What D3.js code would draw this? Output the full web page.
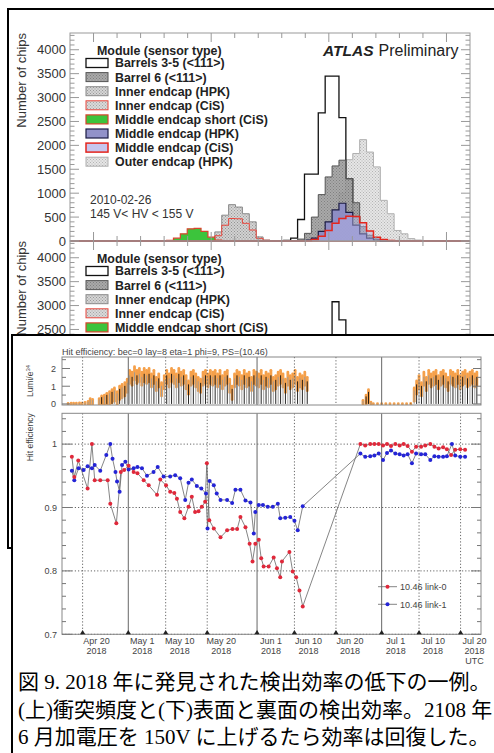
<!DOCTYPE html>
<html>
<head>
<meta charset="utf-8">
<script src="https://cdn.jsdelivr.net/npm/d3@7"></script>
<style>
body { margin: 0; background: #fff; }
svg { display: block; font-family: "Liberation Sans", Arial, sans-serif; }
</style>
</head>
<body>
<svg id="fig" width="494" height="753"></svg>
<script>
// ---------------- data: chip histograms (bin index, number of chips) ----------------
var nBins = 58;
var countTicks = [0, 500, 1000, 1500, 2000, 2500, 3000, 3500, 4000];
var legendNames = ["Barrels 3-5 (<111>)", "Barrel 6 (<111>)", "Inner endcap (HPK)", "Inner endcap (CiS)",
  "Middle endcap short (CiS)", "Middle endcap (HPK)", "Middle endcap (CiS)", "Outer endcap (HPK)"];

var barrels35 = [[31,10],[32,60],[33,450],[34,1400],[35,1400],[36,2680],[37,3450],[38,3450],[39,2580],[40,1300],[41,500],[42,150],[43,40],[44,10]];
var barrel6 = [[33,40],[34,160],[35,500],[36,970],[37,1340],[38,1570],[39,1690],[40,1300],[41,800],[42,300],[43,120],[44,40]];
var innerHPK = [[20,30],[21,190],[22,540],[23,760],[24,710],[25,570],[26,400],[27,85],[28,20]];
var innerCiS = [[20,20],[21,110],[22,330],[23,470],[24,465],[25,370],[26,230],[27,55],[28,15]];
var middleShort = [[14,15],[15,60],[16,150],[17,255],[18,265],[19,200],[20,80],[21,20]];
var middleHPK = [[34,20],[35,60],[36,200],[37,400],[38,650],[39,790],[40,600],[41,330],[42,150],[43,60],[44,20]];
var middleCiS = [[35,30],[36,100],[37,220],[38,370],[39,470],[40,520],[41,515],[42,380],[43,210],[44,80],[45,30],[46,10]];
var outerHPK = [[36,30],[37,150],[38,450],[39,1000],[40,1700],[41,1830],[42,2120],[43,1860],[44,1550],[45,850],[46,570],[47,220],[48,150],[49,50],[50,20]];

// lower (mostly hidden) histogram panel
var barrels35B = [[32,50],[33,300],[34,900],[35,1700],[36,2300],[37,2350],[38,3080],[39,2700],[40,1500],[41,600],[42,150],[43,30]];

// ---------------- data: hit efficiency vs time ----------------
var dateTicks = ["2018-04-20 00","2018-05-01 00","2018-05-10 00","2018-05-20 00","2018-06-01 00","2018-06-10 00","2018-06-20 00","2018-07-01 00","2018-07-10 00","2018-07-20 00"];
var dateLabels = ["Apr 20","May 1","May 10","May 20","Jun 1","Jun 10","Jun 20","Jul 1","Jul 10","Jul 20"];
var monthStarts = ["May 1","Jun 1","Jul 1"];
var effTicks = [0.7, 0.8, 0.9, 1.0];
var lumiTicks = [0, 1, 2];

var link0Dates = ["04-17 10","04-18 00","04-18 23","04-21 05","04-22 06","04-22 22","04-24 06","04-26 01","04-26 16","04-28 03",
  "04-29 05","04-30 00","05-01 02","05-02 07","05-03 05","05-04 17","05-05 22","05-07 22","05-08 17","05-10 02",
  "05-11 02","05-12 02","05-12 17","05-13 12","05-14 12","05-15 12","05-16 07","05-17 02","05-17 22","05-18 17",
  "05-19 12","05-19 22","05-20 12","05-21 14","05-23 05","05-24 19","05-26 02","05-27 05","05-28 00","05-29 05",
  "05-30 05","05-30 22","05-31 14","06-01 10","06-02 00","06-02 14","06-03 19","06-05 00","06-05 19","06-06 14",
  "06-07 00","06-08 19","06-09 14","06-10 10","06-11 05","06-12 00",
  "06-25 21","06-27 01","06-28 06","06-29 06","06-30 07","07-01 08","07-02 07","07-03 06","07-04 07","07-05 08",
  "07-06 07","07-07 06","07-08 07","07-09 07","07-10 12","07-11 12","07-12 17","07-13 17","07-14 17","07-15 19",
  "07-16 17","07-17 17","07-18 17","07-19 22","07-21 02"];
var link0Eff = [0.980,0.948,0.974,0.930,1.000,0.943,0.943,0.943,0.906,0.875,
  0.956,0.959,0.966,0.956,0.954,0.943,0.935,0.920,0.944,0.935,
  0.925,0.923,0.914,0.893,0.883,0.901,0.917,0.893,0.894,0.901,
  0.909,0.970,0.880,0.867,0.853,0.864,0.866,0.866,0.885,0.869,
  0.843,0.815,0.843,0.849,0.820,0.807,0.807,0.821,0.804,0.790,
  0.815,0.830,0.799,0.790,0.769,0.744,
  1.000,0.998,1.000,1.000,1.000,0.998,1.000,0.997,1.000,0.998,
  1.000,0.997,0.988,0.996,0.996,0.998,1.000,0.996,0.993,0.995,
  0.992,0.983,0.991,0.992,0.991];

var link1Dates = ["04-17 10","04-18 00","04-19 01","04-20 06","04-21 05","04-22 06","04-22 22","04-24 06","04-25 17","04-26 16",
  "04-27 05","04-27 22","04-28 07","04-28 22","04-29 12","04-30 07","05-01 02","05-02 07","05-03 05","05-04 07",
  "05-05 12","05-07 02","05-08 02","05-09 12","05-11 02","05-12 07","05-13 12","05-14 17","05-15 12","05-16 07",
  "05-17 12","05-18 14","05-19 17","05-20 02","05-20 14","05-21 14","05-22 07","05-23 05","05-24 19","05-26 00",
  "05-26 19","05-28 00","05-29 05","05-30 10","05-31 05","05-31 14","06-01 10","06-02 10","06-03 14","06-04 19",
  "06-06 00","06-06 14","06-07 19","06-09 00","06-10 00","06-10 19","06-12 00",
  "06-25 21","06-27 01","06-28 06","06-29 06","06-30 07","07-01 08","07-02 07","07-03 06","07-04 07","07-05 08",
  "07-06 07","07-07 06","07-08 07","07-09 07","07-10 12","07-11 12","07-12 17","07-13 17","07-14 17","07-15 19",
  "07-16 17","07-17 22","07-18 17","07-19 22","07-21 02"];
var link1Eff = [0.958,0.943,0.962,0.959,0.965,0.962,0.967,0.958,0.983,1.000,
  0.977,0.956,0.941,0.925,0.967,0.972,0.960,0.962,0.964,0.962,
  0.950,0.956,0.964,0.949,0.949,0.951,0.946,0.912,0.939,0.944,
  0.934,0.930,0.922,0.867,0.942,0.935,0.922,0.912,0.912,0.907,
  0.928,0.928,0.911,0.908,0.859,0.893,0.904,0.904,0.901,0.901,
  0.906,0.883,0.884,0.885,0.879,0.864,0.902,
  0.985,0.980,0.981,0.982,0.985,0.975,0.986,0.990,0.985,0.984,
  0.982,0.984,0.970,0.985,0.984,0.984,0.975,0.981,0.980,0.980,
  0.981,1.000,0.982,0.980,0.980];

// instantaneous luminosity per fill (1e34), k = dark bar, g = grey bar
var lumiDates = ["04-16 12","04-17 06","04-17 20","04-18 12","04-19 06","04-19 20","04-20 14","04-21 08","04-21 20","04-22 10",
  "04-24 00","04-24 14","04-25 06","04-25 20","04-26 12","04-27 02","04-27 16","04-28 08","04-28 22","04-29 12","04-30 04","04-30 18",
  "05-01 08","05-01 22","05-02 12","05-03 02","05-03 16","05-04 06","05-04 20","05-05 10","05-06 00","05-06 14",
  "05-07 04","05-07 18","05-08 08","05-09 00","05-09 16","05-10 06","05-10 20","05-11 10","05-12 00","05-12 14",
  "05-13 04","05-13 18","05-14 08","05-14 22","05-15 12","05-16 02","05-16 16","05-17 06","05-17 20","05-18 10",
  "05-19 00","05-19 14","05-20 04","05-20 18","05-21 08","05-21 22","05-22 12","05-23 02","05-23 16","05-24 06",
  "05-24 20","05-25 10","05-26 00","05-26 14","05-27 04","05-27 18","05-28 08","05-28 22","05-29 12","05-30 02",
  "05-30 16","05-31 06","05-31 20","06-01 10","06-02 00","06-02 14","06-03 04","06-03 18","06-04 08","06-04 22",
  "06-05 12","06-06 02","06-06 16","06-07 06","06-07 20","06-08 10","06-09 00","06-09 14","06-10 04","06-10 18",
  "06-11 08","06-11 22","06-12 12","06-13 02",
  "06-26 12","06-27 06","06-27 20","06-28 10","06-29 00","06-30 00","07-01 00","07-02 00","07-03 00","07-04 00",
  "07-05 00","07-06 00","07-07 00","07-08 00","07-08 20","07-09 10","07-10 00","07-10 14","07-11 04","07-11 18",
  "07-12 08","07-12 22","07-13 12","07-14 02","07-14 16","07-15 06","07-15 20","07-16 10","07-17 00","07-17 14",
  "07-18 04","07-18 18","07-19 08","07-19 22","07-20 12","07-21 02","07-21 16","07-22 06","07-22 20","07-23 10","07-23 22"];
var lumiPeaks = [0.03,0.04,0.05,0.05,0.06,0.05,0.08,0.15,0.3,0.25,
  0.3,0.45,0.5,0.6,0.7,0.8,0.9,0.7,1.0,1.1,1.2,1.4,
  1.9,1.8,2.1,1.9,2.0,1.8,2.0,1.9,2.0,1.7,
  1.9,1.5,1.7,1.2,1.6,1.9,1.7,2.0,1.9,1.7,
  2.0,1.8,1.9,1.6,1.3,1.8,1.9,1.7,1.5,1.4,
  1.8,1.9,1.7,1.9,1.8,1.9,1.7,1.9,1.6,1.8,
  1.9,1.4,1.0,1.7,1.9,1.8,1.6,1.9,1.7,1.8,
  1.5,1.9,1.8,1.7,1.9,1.6,1.8,1.7,1.9,1.5,
  1.6,1.8,1.9,1.7,1.4,1.8,1.6,1.7,1.9,1.5,
  1.7,1.6,1.8,1.5,
  0.2,0.5,0.8,0.1,0.02,0.02,0.02,0.02,0.02,0.02,
  0.02,0.02,0.02,0.03,0.9,1.3,1.6,1.2,1.8,1.5,
  1.9,1.7,1.8,1.9,1.6,1.8,1.9,1.7,1.5,1.9,
  1.8,1.7,1.9,1.6,1.8,1.9,1.7,1.8,1.9,1.7,1.8];
var lumiShade = "ggggggggggg" + "kgkgkggkgkg" + "gkgkggkgkg" + "kgkggkgkgg" + "kgkgkgkggk" + "gkgkgkgkgg" +
  "kgkgkggkgk" + "gkggkgkgkg" + "kgkgkgkggk" + "gkgk" + "gkkggggggg" + "gggkgkgkgk" + "gkgkkgkgkg" + "kgkgkgkgkgk";

// ---------------- drawing ----------------
var svg = d3.select("#fig");
var defs = svg.append("defs");

function dotPattern(id, bg, dot) {
  var p = defs.append("pattern").attr("id", id)
    .attr("width", 3).attr("height", 3).attr("patternUnits", "userSpaceOnUse");
  p.append("rect").attr("width", 3).attr("height", 3).attr("fill", bg);
  p.append("rect").attr("width", 1).attr("height", 1).attr("fill", dot);
  p.append("rect").attr("x", 1.5).attr("y", 1.5).attr("width", 1).attr("height", 1).attr("fill", dot);
}
dotPattern("pDark", "#9a9a9a", "#6a6a6a");
dotPattern("pMid", "#d0d0d0", "#8e8e8e");
dotPattern("pLight", "#e6e6e6", "#b4b4b4");

// styles follow legend order
var histStyles = [
  {fill: "none",          stroke: "#111",    sw: 1.3, op: 1},
  {fill: "url(#pDark)",   stroke: "#555",    sw: 1,   op: 0.85},
  {fill: "url(#pMid)",    stroke: "#8a8a8a", sw: 1,   op: 0.9},
  {fill: "url(#pMid)",    stroke: "#e8463c", sw: 1,   op: 0.6},
  {fill: "#3cc43c",       stroke: "#d8442c", sw: 1.2, op: 1},
  {fill: "#8c8cc6",       stroke: "#1c1c44", sw: 1.2, op: 0.95},
  {fill: "#b8b8ea",       stroke: "#e4261e", sw: 1.5, op: 0.45},
  {fill: "url(#pLight)",  stroke: "#b0b0b0", sw: 1,   op: 1}
];
var drawOrder = [7, 0, 1, 2, 3, 4, 5, 6];

// outer frame of the upper figure
svg.append("rect").attr("x", 8).attr("y", 9).attr("width", 600).attr("height", 539)
  .attr("fill", "#fff").attr("stroke", "#000").attr("stroke-width", 2);

var px0 = 70, px1 = 470, panelH = 208;
var xb = d3.scaleLinear().domain([0, nBins]).range([px0, px1]);
var xa = d3.scaleLinear().domain([0, 17]).range([px0, px1]);

function binsOf(pairs) {
  var c = [];
  for (var k = 0; k <= nBins; k++) c.push({k: k, v: 0});
  pairs.forEach(function(p) { c[p[0]].v = p[1]; });
  return c;
}

// cutY: texts below this line are covered by the lower figure, so they are left out
function drawHist(top, series, dateText, cutY) {
  var g = svg.append("g");
  var y = d3.scaleLinear().domain([0, 4350]).range([top + panelH, top]);

  var area = d3.area().curve(d3.curveStepAfter)
    .x(function(d) { return xb(d.k); }).y0(y(0)).y1(function(d) { return y(d.v); });
  var line = d3.line().curve(d3.curveStepAfter)
    .x(function(d) { return xb(d.k); }).y(function(d) { return y(d.v); });

  drawOrder.forEach(function(i) {
    if (!series[i]) return;
    var b = binsOf(series[i]), s = histStyles[i];
    if (s.fill != "none")
      g.append("path").attr("d", area(b)).attr("fill", s.fill).attr("fill-opacity", s.op);
    g.append("path").attr("d", line(b)).attr("fill", "none")
      .attr("stroke", s.stroke).attr("stroke-width", s.sw);
  });

  // frame + ticks
  g.append("rect").attr("x", px0).attr("y", top).attr("width", px1 - px0).attr("height", panelH)
    .attr("fill", "none").attr("stroke", "#9a9a9a").attr("stroke-width", 1);
  var minorY = d3.range(0, 4350, 100);
  minorY.forEach(function(v) {
    var len = (v % 500 == 0) ? 9 : 4.5;
    g.append("line").attr("x1", px0).attr("x2", px0 + len).attr("y1", y(v)).attr("y2", y(v)).attr("stroke", "#999");
    g.append("line").attr("x1", px1).attr("x2", px1 - len).attr("y1", y(v)).attr("y2", y(v)).attr("stroke", "#999");
  });
  d3.range(1, 17).forEach(function(u) {
    var len = ([1, 6, 11, 16].indexOf(u) >= 0) ? 9 : 5;
    g.append("line").attr("x1", xa(u)).attr("x2", xa(u)).attr("y1", top + panelH).attr("y2", top + panelH - len).attr("stroke", "#999");
    g.append("line").attr("x1", xa(u)).attr("x2", xa(u)).attr("y1", top).attr("y2", top + len).attr("stroke", "#999");
  });
  g.selectAll(".yl").data(countTicks.filter(function(d) { return y(d) - 5 < cutY; })).enter().append("text")
    .attr("x", 66).attr("y", function(d) { return y(d) + 4.6; })
    .attr("text-anchor", "end").attr("font-size", 13).attr("fill", "#333")
    .text(function(d) { return d; });
  g.append("text").attr("transform", "translate(26," + top + ") rotate(-90)")
    .attr("text-anchor", "end").attr("font-size", 13).attr("fill", "#333").text("Number of chips");

  // legend
  g.append("text").attr("x", 97).attr("y", top + 21.5).attr("font-size", 12.4).attr("font-weight", "bold")
    .attr("fill", "#222").text("Module (sensor type)");
  legendNames.forEach(function(name, i) {
    var cy = top + 30 + i * 14.1, s = histStyles[i];
    if (cy - 5 > cutY) return;
    g.append("rect").attr("x", 86).attr("y", cy - 4.5).attr("width", 22).attr("height", 9)
      .attr("fill", s.fill == "none" ? "#fff" : s.fill).attr("fill-opacity", s.fill == "none" ? 1 : Math.max(s.op, 0.8))
      .attr("stroke", s.stroke).attr("stroke-width", s.sw);
    g.append("text").attr("x", 115).attr("y", cy + 4.4).attr("font-size", 12.4).attr("font-weight", "bold")
      .attr("fill", "#222").text(name);
  });

  if (dateText) {
    g.append("text").attr("x", 90).attr("y", top + 171).attr("font-size", 12).attr("fill", "#333").text(dateText[0]);
    g.append("text").attr("x", 90).attr("y", top + 184.5).attr("font-size", 12).attr("fill", "#333").text(dateText[1]);
    var at = g.append("text").attr("x", 323).attr("y", top + 23).attr("font-size", 15.5).attr("fill", "#222");
    at.append("tspan").attr("font-weight", "bold").attr("font-style", "italic").text("ATLAS");
    at.append("tspan").attr("dx", 5).attr("font-size", 16).text("Preliminary");
  }
}

drawHist(33, [barrels35, barrel6, innerHPK, innerCiS, middleShort, middleHPK, middleCiS, outerHPK],
  ["2010-02-26", "145 V< HV < 155 V"], 1000);
drawHist(241, [barrels35B], null, 335);

// ---------------- lower figure: hit efficiency ----------------
svg.append("rect").attr("x", 12).attr("y", 335).attr("width", 600).attr("height", 500)
  .attr("fill", "#fff").attr("stroke", "#000").attr("stroke-width", 2);

var parseT = d3.utcParse("%Y-%m-%d %H");
var ex0 = 62, ex1 = 481;
var tx = d3.scaleUtc().domain([parseT("2018-04-15 01"), parseT("2018-07-24 22")]).range([ex0, ex1]);
var lTop = 357, lBot = 405, eTop = 413.3, eBot = 634.3;
var yl = d3.scaleLinear().domain([-0.06, 2.65]).range([lBot, lTop]);
var ye = d3.scaleLinear().domain([0.7, 1.0486]).range([eBot, eTop]);
var tickT = dateTicks.map(parseT);

var lg = svg.append("g");
lg.append("text").attr("x", 62).attr("y", 354.5).attr("font-size", 9).attr("fill", "#444")
  .text("Hit efficiency: bec=0 lay=8 eta=1 phi=9, PS=(10.46)");

defs.append("clipPath").attr("id", "lumiClip").append("rect")
  .attr("x", ex0).attr("y", lTop).attr("width", ex1 - ex0).attr("height", lBot - lTop);

// luminosity panel
var lumi = lumiDates.map(function(s, i) { return {t: parseT("2018-" + s), v: lumiPeaks[i], k: lumiShade[i]}; });
var lc = lg.append("g").attr("clip-path", "url(#lumiClip)");
lc.selectAll(".lo").data(lumi).enter().append("line")
  .attr("x1", function(d) { return tx(d.t); }).attr("x2", function(d) { return tx(d.t); })
  .attr("y1", function(d) { return yl(Math.max(0, d.v - 0.75)); }).attr("y2", function(d) { return yl(d.v); })
  .attr("stroke", "#f5a04a").attr("stroke-width", 2.8).attr("stroke-linecap", "round");
lc.selectAll(".lb").data(lumi).enter().append("line")
  .attr("x1", function(d) { return tx(d.t); }).attr("x2", function(d) { return tx(d.t); })
  .attr("y1", yl(0)).attr("y2", function(d) { return yl(d.v * 0.85); })
  .attr("stroke", function(d) { return d.k == "k" ? "#111" : "#9a9a9a"; }).attr("stroke-width", 0.9);

function gridAndFrame(top, bot) {
  tickT.forEach(function(t, i) {
    var solid = monthStarts.indexOf(dateLabels[i]) >= 0;
    lg.append("line").attr("x1", tx(t)).attr("x2", tx(t)).attr("y1", top).attr("y2", bot)
      .attr("stroke", solid ? "#666" : "#555").attr("stroke-width", solid ? 1 : 0.9)
      .attr("stroke-dasharray", solid ? null : "1.2,2");
  });
  lg.append("rect").attr("x", ex0).attr("y", top).attr("width", ex1 - ex0).attr("height", bot - top)
    .attr("fill", "none").attr("stroke", "#888").attr("stroke-width", 1);
}
gridAndFrame(lTop, lBot);

[0, 0.5, 1, 1.5, 2, 2.5].forEach(function(v) {
  var len = (v % 1 == 0) ? 8 : 4;
  lg.append("line").attr("x1", ex0).attr("x2", ex0 + len).attr("y1", yl(v)).attr("y2", yl(v)).attr("stroke", "#777");
  lg.append("line").attr("x1", ex1).attr("x2", ex1 - len).attr("y1", yl(v)).attr("y2", yl(v)).attr("stroke", "#777");
});
lg.selectAll(".lt").data(lumiTicks).enter().append("text")
  .attr("x", 56).attr("y", function(d) { return yl(d) + 3.3; }).attr("text-anchor", "end")
  .attr("font-size", 9).attr("fill", "#444").text(function(d) { return d; });
var lumiLab = lg.append("text").attr("transform", "translate(33," + ((lTop + lBot) / 2) + ") rotate(-90)")
  .attr("text-anchor", "middle").attr("font-size", 8.5).attr("fill", "#444");
lumiLab.append("tspan").text("Lumi/e");
lumiLab.append("tspan").attr("dy", -3).attr("font-size", 6).text("34");

// efficiency panel
effTicks.forEach(function(v) {
  lg.append("line").attr("x1", ex0).attr("x2", ex1).attr("y1", ye(v)).attr("y2", ye(v))
    .attr("stroke", "#555").attr("stroke-width", 0.9).attr("stroke-dasharray", "1.2,2");
});
gridAndFrame(eTop, eBot);
d3.range(0.7, 1.045, 0.02).forEach(function(v) {
  var major = effTicks.some(function(m) { return Math.abs(m - v) < 1e-6; });
  var len = major ? 10 : 4;
  lg.append("line").attr("x1", ex0).attr("x2", ex0 + len).attr("y1", ye(v)).attr("y2", ye(v)).attr("stroke", "#777");
  lg.append("line").attr("x1", ex1).attr("x2", ex1 - len).attr("y1", ye(v)).attr("y2", ye(v)).attr("stroke", "#777");
});
lg.selectAll(".et").data(effTicks).enter().append("text")
  .attr("x", 57).attr("y", function(d) { return ye(d) + 3.3; }).attr("text-anchor", "end")
  .attr("font-size", 9).attr("fill", "#444").text(function(d) { return d == 1 ? "1" : d.toFixed(1); });
lg.append("text").attr("transform", "translate(33," + eTop + ") rotate(-90)")
  .attr("text-anchor", "end").attr("font-size", 8.5).attr("fill", "#444").text("Hit efficiency");

// date ticks + labels
lg.selectAll(".tri").data(tickT).enter().append("path")
  .attr("transform", function(d) { return "translate(" + tx(d) + "," + eBot + ")"; })
  .attr("d", "M-2.6,0L2.6,0L0,-4.2Z").attr("fill", "#222");
dateLabels.forEach(function(lab, i) {
  var cx = tx(tickT[i]) + 14;
  lg.append("text").attr("x", cx).attr("y", 644).attr("text-anchor", "middle").attr("font-size", 9).attr("fill", "#444").text(lab);
  lg.append("text").attr("x", cx).attr("y", 654).attr("text-anchor", "middle").attr("font-size", 9).attr("fill", "#444").text("2018");
});
lg.append("text").attr("x", tx(tickT[9]) + 14).attr("y", 664).attr("text-anchor", "middle")
  .attr("font-size", 9).attr("fill", "#444").text("UTC");

// series
function series(dates, vals) {
  return dates.map(function(s, i) { return {t: parseT("2018-" + s), v: vals[i]}; });
}
var s0 = series(link0Dates, link0Eff), s1 = series(link1Dates, link1Eff);
var effLine = d3.line().x(function(d) { return tx(d.t); }).y(function(d) { return ye(d.v); });
[[s1, "#2424d6"], [s0, "#e0283a"]].forEach(function(p) {
  lg.append("path").attr("d", effLine(p[0])).attr("fill", "none").attr("stroke", "#666").attr("stroke-width", 0.8);
});
[[s1, "#2424d6"], [s0, "#e0283a"]].forEach(function(p) {
  lg.selectAll(null).data(p[0]).enter().append("circle")
    .attr("cx", function(d) { return tx(d.t); }).attr("cy", function(d) { return ye(d.v); })
    .attr("r", 2).attr("fill", p[1]);
});

// legend
[["10.46 link-0", "#e0283a", 586.7], ["10.46 link-1", "#2424d6", 604.3]].forEach(function(e) {
  lg.append("line").attr("x1", 378).attr("x2", 397).attr("y1", e[2]).attr("y2", e[2]).attr("stroke", "#666").attr("stroke-width", 0.8);
  lg.append("circle").attr("cx", 387.5).attr("cy", e[2]).attr("r", 2).attr("fill", e[1]);
  lg.append("text").attr("x", 400).attr("y", e[2] + 3.3).attr("font-size", 9).attr("fill", "#444").text(e[0]);
});

// caption
var caption = ["図 9. 2018 年に発見された検出効率の低下の一例。",
  "(上)衝突頻度と(下)表面と裏面の検出効率。2108 年",
  "6 月加電圧を 150V に上げるたら効率は回復した。"];
svg.selectAll(".cap").data(caption).enter().append("text")
  .attr("x", 18).attr("y", function(d, i) { return 689 + i * 27.5; })
  .attr("font-family", "'Liberation Serif', 'Noto Sans CJK JP', serif")
  .attr("font-size", 21).attr("fill", "#000").text(function(d) { return d; });
</script>
</body>
</html>
